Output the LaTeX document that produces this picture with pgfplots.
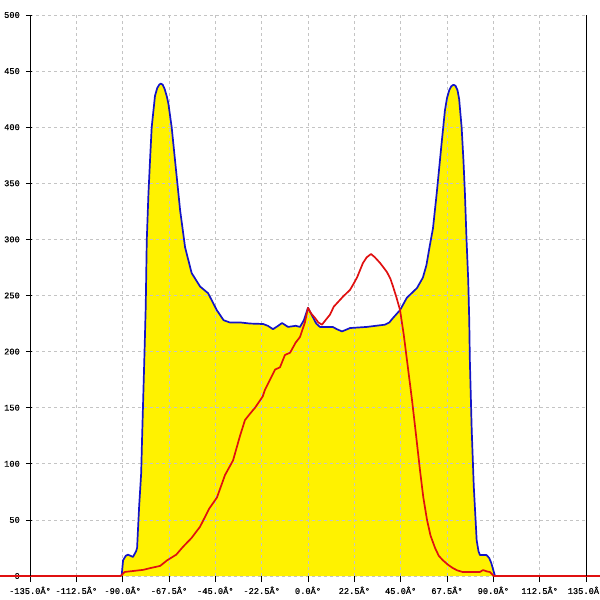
\documentclass[border=0pt]{standalone}
\usepackage{pgfplots}
\pgfplotsset{compat=1.18}
\usepackage{fontspec}
\newfontfamily\tickfont[FakeBold=0.6]{Liberation Mono}
\definecolor{bluel}{HTML}{1414C8}
\definecolor{redl}{HTML}{E01010}
\definecolor{gridc}{HTML}{C4C4C4}
\begin{document}
\begin{tikzpicture}
\begin{axis}[
  set layers,
  at={(0pt,0pt)}, anchor=south west,
  scale only axis, width=556pt, height=561pt,
  xmin=-135, xmax=135, ymin=0, ymax=500,
  clip=false,
  axis line style={draw=none},
  xtick={-135,-112.5,-90,-67.5,-45,-22.5,0,22.5,45,67.5,90,112.5,135},
  xticklabels={-135.0Â°,-112.5Â°,-90.0Â°,-67.5Â°,-45.0Â°,-22.5Â°,0.0Â°,22.5Â°,45.0Â°,67.5Â°,90.0Â°,112.5Â°,135.0Â°},
  ytick={0,50,...,500},
  yticklabels={0,50,100,150,200,250,300,350,400,450,500},
  xtick pos=bottom, ytick pos=left,
  tick align=outside,
  major tick length=6pt,
  tick style={black, line width=0.8pt},
  ytick style={xshift=2pt},
  grid=major,
  major grid style={gridc, line width=0.6pt, dash pattern=on 3pt off 3pt},
  xticklabel style={font=\tickfont\fontsize{8.7}{10}\selectfont, inner sep=0pt, anchor=north, yshift=-4.5pt},
  yticklabel style={font=\tickfont\fontsize{8.7}{10}\selectfont, inner sep=0pt, anchor=east, xshift=-4pt},
]
\addplot[fill=yellow, draw=none, on layer=axis background] coordinates {
(-90.5,0) (-89.8,14) (-88.5,18) (-87.4,19) (-85,17) (-83.5,22) (-83,25) (-82,62) (-81,92) (-80.6,121)
(-79.5,192) (-78.8,240) (-78.3,299) (-77.5,340) (-76.7,371) (-75.9,400) (-74.3,428) (-73.2,435) (-72.2,438) (-71.5,438.8)
(-70.6,438) (-69.6,434) (-68.5,427) (-67.8,421) (-66.2,400) (-64.6,371) (-62.1,326) (-59.7,293) (-56.5,270) (-52.4,258)
(-48.5,252) (-44.3,237) (-41,228) (-38,226) (-33,226) (-28.2,225) (-21.8,224.6) (-19.5,223) (-17,220)
(-14.5,223) (-12.6,225.5) (-9.7,222) (-6,223) (-3.9,222) (-2,228) (0,239) (2,232) (4,225) (5.8,222)
(12,222) (14,220) (16.5,218) (18.5,219.5) (20.4,221) (28.6,222) (33,223) (37.4,224) (39.5,226) (41.3,230)
(44.7,237) (48,248) (52.9,256.6) (55.8,266) (57.5,277) (59.2,295) (60.7,310) (62.5,341) (64.9,386)
(66.5,415) (67.5,426) (68.6,433) (69.6,436.5) (70.6,437.8) (71.6,437) (72.6,433) (73.4,425) (74.6,400) (75.5,370) (76.2,341)
(77,299) (77.8,264) (78.3,228) (78.6,192) (79.5,130) (80.5,80) (81.9,32) (82.8,22) (83.5,18.7)
(86.7,18.7) (88,16) (89,11.6) (90.8,0)
} \closedcycle;
\addplot[bluel, line width=1.7pt, line join=round] coordinates {
(-90.5,0) (-89.8,14) (-88.5,18) (-87.4,19) (-85,17) (-83.5,22) (-83,25) (-82,62) (-81,92) (-80.6,121)
(-79.5,192) (-78.8,240) (-78.3,299) (-77.5,340) (-76.7,371) (-75.9,400) (-74.3,428) (-73.2,435) (-72.2,438) (-71.5,438.8)
(-70.6,438) (-69.6,434) (-68.5,427) (-67.8,421) (-66.2,400) (-64.6,371) (-62.1,326) (-59.7,293) (-56.5,270) (-52.4,258)
(-48.5,252) (-44.3,237) (-41,228) (-38,226) (-33,226) (-28.2,225) (-21.8,224.6) (-19.5,223) (-17,220)
(-14.5,223) (-12.6,225.5) (-9.7,222) (-6,223) (-3.9,222) (-2,228) (0,239) (2,232) (4,225) (5.8,222)
(12,222) (14,220) (16.5,218) (18.5,219.5) (20.4,221) (28.6,222) (33,223) (37.4,224) (39.5,226) (41.3,230)
(44.7,237) (48,248) (52.9,256.6) (55.8,266) (57.5,277) (59.2,295) (60.7,310) (62.5,341) (64.9,386)
(66.5,415) (67.5,426) (68.6,433) (69.6,436.5) (70.6,437.8) (71.6,437) (72.6,433) (73.4,425) (74.6,400) (75.5,370) (76.2,341)
(77,299) (77.8,264) (78.3,228) (78.6,192) (79.5,130) (80.5,80) (81.9,32) (82.8,22) (83.5,18.7)
(86.7,18.7) (88,16) (89,11.6) (90.8,0)
};
\addplot[redl, line width=1.7pt, line join=round] coordinates {
(-150,0) (-91,0) (-89,3.6) (-80,5.5) (-76.7,7) (-71.8,9) (-68.4,14) (-64,19) (-60.7,26) (-56.5,34)
(-52.4,44) (-48,60) (-44.2,70) (-40.3,90) (-36.4,103) (-33,125) (-30.6,139) (-28,145) (-25.7,150)
(-22,160) (-20.9,166) (-16,184) (-13.6,186) (-11.2,197) (-8.7,199) (-6,208) (-3.9,213) (-1.5,226)
(0,239) (1.5,234) (3.4,230) (5,226) (6.8,224) (8.5,228) (10.7,233) (12.5,240) (14,243) (17,249)
(20.4,255) (22,260) (23.8,266) (26.7,279) (28.5,284) (30.6,287) (32.5,284) (35,279) (38.3,271)
(40,265) (41.3,258) (43,248) (44.7,237) (46.5,215) (48.5,186) (50.5,157) (52.5,125) (54.4,94)
(56,70) (57.8,50) (59.5,36) (61.7,25) (63.5,18) (65.5,14) (68,10) (70.4,7) (72.5,5) (75,3.6)
(83.5,3.6) (85,5.3) (87,4) (88.3,3.6) (90.3,0) (150,0)
};
\draw[black, line width=0.9pt] (rel axis cs:0,0) -- (rel axis cs:0,1);
\draw[black, line width=0.9pt] (rel axis cs:1,0) -- (rel axis cs:1,1);
\end{axis}
\pgfresetboundingbox
\useasboundingbox (-30pt,-24pt) rectangle (570pt,576pt);
\end{tikzpicture}
\end{document}
